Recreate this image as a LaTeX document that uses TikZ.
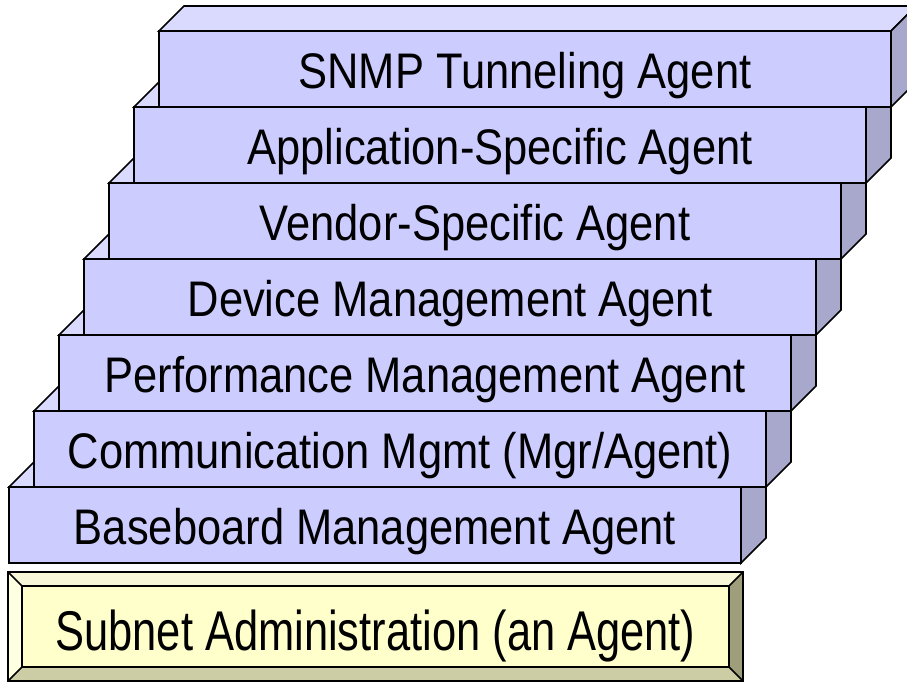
\documentclass[tikz,border=0pt]{standalone}
\usepackage{fontspec}
\setmainfont{Liberation Sans}
\definecolor{frontc}{HTML}{CCCCFF}
\definecolor{topc}{HTML}{DADAFF}
\definecolor{sidec}{HTML}{A8A8CC}
\definecolor{yinner}{HTML}{FFFFCC}
\definecolor{yleft}{HTML}{FFFFE2}
\definecolor{ytop}{HTML}{F8F8D8}
\definecolor{yright}{HTML}{9E9E7A}
\definecolor{ybottom}{HTML}{CDCDA5}
\begin{document}
\begin{tikzpicture}[x=1pt,y=-1pt,line join=miter,
  ol/.style={draw=black,line width=1.6pt},
  lbl/.style={font=\fontsize{50}{60}\selectfont,anchor=base,inner sep=0pt},
  sublbl/.style={font=\fontsize{56}{66}\selectfont,anchor=base,inner sep=0pt}]
\useasboundingbox (0,0) rectangle (907,681);
\clip (0,0) rectangle (907,681);
% stair boxes, drawn from bottom to top
\foreach \i/\txt in {6/{Baseboard Management Agent},
                     5/{Communication Mgmt (Mgr/Agent)},
                     4/{Performance Management Agent},
                     3/{Device Management Agent},
                     2/{Vendor-Specific Agent},
                     1/{Application-Specific Agent},
                     0/{SNMP Tunneling Agent}} {
  \pgfmathsetmacro\L{159-25*\i}
  \pgfmathsetmacro\R{891-25*\i}
  \pgfmathsetmacro\T{31+76*\i}
  \pgfmathsetmacro\B{107+76*\i}
  \filldraw[ol,fill=topc] (\L,\T) -- (\L+25,\T-25) -- (\R+25,\T-25) -- (\R,\T) -- cycle;
  \filldraw[ol,fill=sidec] (\R,\T) -- (\R+25,\T-25) -- (\R+25,\B-25) -- (\R,\B) -- cycle;
  \filldraw[ol,fill=frontc] (\L,\T) rectangle (\R,\B);
  \node[lbl] (t\i) at ({(\L+\R)/2},\T+57) {\scalebox{0.87}[1]{\txt}};
}
% beveled base box
\fill[yleft] (8,572) -- (22,586) -- (22,667) -- (8,681) -- cycle;
\fill[ytop] (8,572) -- (743,572) -- (729,586) -- (22,586) -- cycle;
\fill[yright] (743,572) -- (743,681) -- (729,667) -- (729,586) -- cycle;
\fill[ybottom] (8,681) -- (22,667) -- (729,667) -- (743,681) -- cycle;
\fill[yinner] (22,586) rectangle (729,667);
\draw[ol] (8,572) rectangle (743,681);
\draw[ol] (22,586) rectangle (729,667);
\draw[ol] (8,572) -- (22,586) (743,572) -- (729,586) (8,681) -- (22,667) (743,681) -- (729,667);
\node[sublbl] (sa) at (375.5,650) {\scalebox{0.776}[1]{Subnet Administration (an Agent)}};
\end{tikzpicture}
\end{document}
